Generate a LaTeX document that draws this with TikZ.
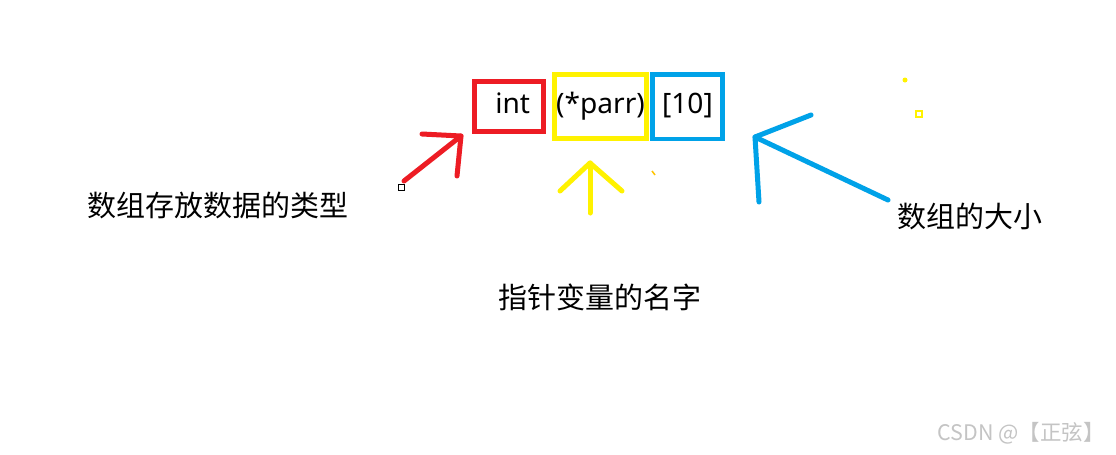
\documentclass[tikz,border=0pt]{standalone}
\usepackage{fontspec}
\setmainfont{Noto Sans}
\newfontfamily\cjk{Noto Sans CJK SC}
\usetikzlibrary{positioning}
\definecolor{penred}{HTML}{ED1C24}
\definecolor{penyellow}{HTML}{FFF200}
\definecolor{penblue}{HTML}{00A2E8}
\definecolor{markgray}{HTML}{C4C4C4}
\tikzset{
  declbox/.style={
    rectangle, draw, line width=0.1cm, inner sep=0pt,
    font=\fontsize{16}{19}\selectfont,
    text height=0.9em, text depth=0.1em
  },
  pen/.style={line width=0.1cm, line cap=round, line join=round},
  notelabel/.style={font=\cjk\fontsize{16.5}{20}\selectfont, inner sep=0pt},
}

\begin{document}
\begin{tikzpicture}[x=0.02cm, y=-0.02cm]
  \fill[white] (0,0) rectangle (1116,454);
  \useasboundingbox (0,0) rectangle (1116,454);

  % the declaration, split in three boxes
  \node[declbox, draw=penred, minimum width=1.38cm, minimum height=1.0cm] (typebox) at (509,106.5) {\hspace{0.15cm}int};
  \node[declbox, draw=penyellow, minimum width=1.84cm, minimum height=1.28cm, right=0.12cm of typebox] (namebox) {(*parr)};
  \node[declbox, draw=penblue, minimum width=1.40cm, minimum height=1.30cm, right=0.02cm of namebox] (sizebox) {[10]};

  % what each part means
  \node[notelabel] (typenote) at (218,205) {数组存放数据的类型};
  \node[notelabel] (namenote) at (600,297) {指针变量的名字};
  \node[notelabel] (sizenote) at (970,216) {数组的大小};

  % hand drawn arrows
  \coordinate (typetail) at (404,181);
  \coordinate (typetip) at (461,136);
  \coordinate (typebarbA) at (422,134);
  \coordinate (typebarbB) at (457,176);
  \draw[pen, penred] (typetail) -- (typetip);
  \draw[pen, penred] (typebarbA) -- (typetip) -- (typebarbB);

  \coordinate (nametail) at (590,213);
  \coordinate (nametip) at (590,163);
  \coordinate (namebarbA) at (560,191);
  \coordinate (namebarbB) at (622,191);
  \draw[pen, penyellow] (nametail) -- (nametip);
  \draw[pen, penyellow] (namebarbA) -- (nametip) -- (namebarbB);

  \coordinate (sizetail) at (888,200);
  \coordinate (sizetip) at (755,137);
  \coordinate (sizebarbA) at (811,115);
  \coordinate (sizebarbB) at (759,202);
  \draw[pen, penblue] (sizetail) -- (sizetip);
  \draw[pen, penblue] (sizebarbA) -- (sizetip) -- (sizebarbB);

  % stray marks
  \draw[line width=0.02cm] (398,184) rectangle (404,190);
  \fill[penyellow] (905,80) circle (2.5);
  \draw[penyellow, line width=0.04cm] (916,111) rectangle (922,117);
  \draw[penyellow!60!orange, line width=0.03cm] (652,171) -- (655,175);

  \node[font=\cjk\fontsize{12.2}{14}\selectfont, text=markgray] (watermark) at (1021,433) {CSDN @【正弦】};
\end{tikzpicture}
\end{document}
